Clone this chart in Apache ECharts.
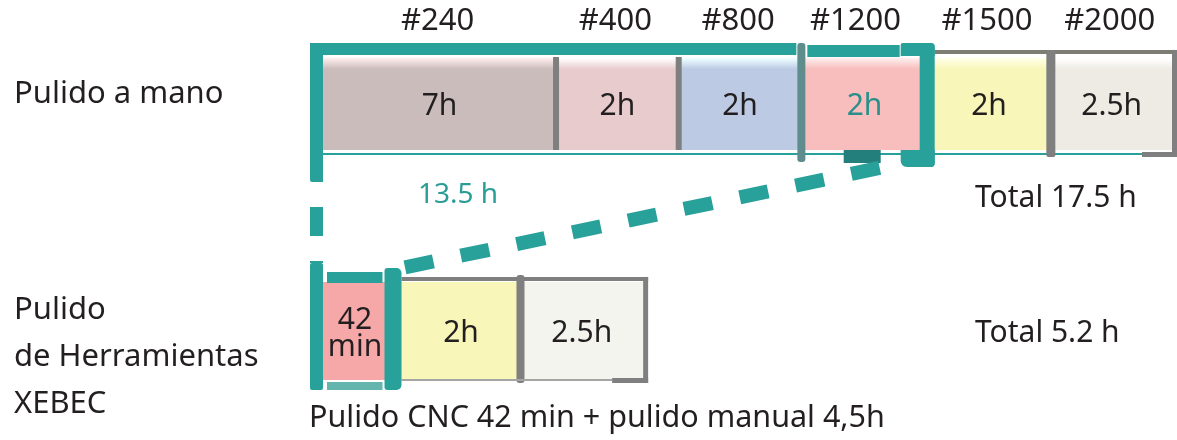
<!DOCTYPE html>
<html>
<head>
<meta charset="utf-8">
<script src="https://cdn.jsdelivr.net/npm/echarts@6/dist/echarts.min.js"></script>
<style>
  html, body { margin: 0; padding: 0; background: #fff; }
  #chart { width: 1177px; height: 440px; }
</style>
</head>
<body>
<div id="chart"></div>
<script>
// ---- data ----
const rowNames = ['Pulido a mano', 'Pulido\nde Herramientas\nXEBEC'];
const grits = ['#240', '#400', '#800', '#1200', '#1500', '#2000'];
const handLabels = ['7h', '2h', '2h', '2h', '2h', '2.5h'];
const xebecLabels = ['42\nmin', '2h', '2.5h'];
const totals = ['Total 17.5 h', 'Total 5.2 h'];
const replacedNote = '13.5 h';
const footNote = 'Pulido CNC 42 min + pulido manual 4,5h';

// ---- layout (cell widths in slot units, not proportional to hours) ----
const handSpan = [1.9, 1, 1, 1.03, 1, 1];
const xebecSpan = [0.64, 0.97, 1.0];

// ---- styles ----
const FONT = 'Noto Sans';
const INK = '#231f20';
const TEAL = '#27a199';
const TEAL_DARK = '#237f7b';
const GREY = '#7f7f7f';
const handColors = ['#cbbcbc', '#e8cbcd', '#bccbe3', '#f8bdbd', '#f8f6b9', '#eeebe4'];
const xebecColors = ['#f6a8a8', '#f8f6b9', '#f4f4ee'];
const handText = [INK, INK, INK, '#2a8f8b', INK, INK];

function bounds(spans) {
  const b = [0];
  spans.forEach(w => b.push(b[b.length - 1] + w));
  return b;
}
const hb = bounds(handSpan);
const xb = bounds(xebecSpan);

const cells = [];
handSpan.forEach((w, i) => cells.push([hb[i], hb[i + 1], 0, i]));
xebecSpan.forEach((w, i) => cells.push([xb[i], xb[i + 1], 1, i]));

function lighten(c) {
  return { type: 'linear', x: 0, y: 0, x2: 0, y2: 1, colorStops: [
    { offset: 0, color: '#ffffff' }, { offset: 0.02, color: echarts.color.lift(c, -0.25) },
    { offset: 0.13, color: c }, { offset: 1, color: c }] };
}

function renderCell(params, api) {
  const s = api.value(0), e = api.value(1), r = api.value(2), i = api.value(3);
  const p0 = api.coord([s, r]), p1 = api.coord([e, r]);
  const top = r === 0 ? p0[1] - 47 : p0[1] - 50;
  const bot = r === 0 ? p0[1] + 46 : p0[1] + 48;
  const fill = r === 0 ? handColors[i] : xebecColors[i];
  const children = [{
    type: 'rect',
    shape: { x: p0[0], y: top, width: p1[0] - p0[0], height: bot - top },
    style: { fill: r === 0 ? lighten(fill) : fill }
  }];
  let cx = (p0[0] + p1[0]) / 2;
  if (r === 1 && i === 0) cx = p0[0] + 32;
  children.push({
    type: 'text',
    style: {
      text: r === 0 ? handLabels[i] : xebecLabels[i],
      x: cx, y: (top + bot) / 2 + 3,
      align: 'center', verticalAlign: 'middle',
      fontFamily: FONT, fontSize: 30, lineHeight: 27,
      fill: r === 0 ? handText[i] : INK
    }
  });
  if (r === 0) {
    children.push({
      type: 'text',
      style: {
        text: grits[i], x: cx - (i === 3 ? 9 : 2), y: 21,
        align: 'center', verticalAlign: 'middle',
        fontFamily: FONT, fontSize: 31, fill: INK
      }
    });
  }
  return { type: 'group', children: children };
}

function renderFrame(params, api) {
  const X = v => api.coord([v, 0])[0];
  const y0 = api.coord([0, 0])[1], y1 = api.coord([0, 1])[1];
  const t = y0 - 47, b = y0 + 46;
  const t1 = y1 - 50, b1 = y1 + 48;
  const L = X(0);
  const R = X(hb[6]);
  const rect = (x, y, w, h, fill, r) => ({ type: 'rect', shape: { x: x, y: y, width: w, height: h, r: r || 0 }, style: { fill: fill } });
  const out = [];
  // top row grey frame
  out.push(rect(X(hb[4]) + 7, t - 7, R + 4 - X(hb[4]) - 7, 4, '#7d7d74'));
  out.push(rect(R - 1, t - 7, 5, b - t + 14, GREY));
  out.push(rect(R - 31, b + 2, 35, 5, GREY));
  out.push(rect(L, b + 3, R - 31 - L, 2, TEAL));
  out.push(rect(X(hb[1]) - 3, t, 6, b - t, GREY));
  out.push(rect(X(hb[2]) - 3, t, 6, b - t, GREY));
  out.push(rect(X(hb[5]) - 4, t - 7, 9, b - t + 14, GREY, 2));
  out.push(rect(X(hb[3]) - 4, t - 14, 8, b - t + 26, '#5f8c8d', 3));
  // top row teal bracket (first four grits)
  out.push(rect(L - 13, t - 14, X(hb[3]) - 5 - L + 13, 12, TEAL));
  out.push(rect(X(hb[3]) + 6, t - 12, X(hb[4]) - 28 - X(hb[3]) - 6, 12, TEAL));
  out.push(rect(L - 13, t - 14, 13, b + 32 - t + 14, TEAL, [2, 0, 0, 2]));
  out.push(rect(X(hb[4]) - 27, t - 14, 34, 13, TEAL, [2, 4, 0, 0]));
  out.push(rect(X(hb[4]) - 8, t - 14, 15, b + 17 - t + 14, TEAL, [2, 4, 4, 0]));
  out.push(rect(X(hb[4]) - 27, b, 34, 17, TEAL, [0, 0, 4, 6]));
  out.push(rect(X(hb[4]) - 84, b, 37, 13, TEAL_DARK));
  // bottom row grey frame
  const XB = v => api.coord([v, 1])[0];
  out.push(rect(XB(xb[1]), t1 - 5, XB(xb[3]) + 5 - XB(xb[1]), 4, GREY));
  out.push(rect(XB(xb[2]) - 4, t1 - 7, 8, b1 - t1 + 10, GREY, 3));
  out.push(rect(XB(xb[3]), t1 - 5, 5, b1 - t1 + 8, GREY));
  out.push(rect(XB(xb[3]) - 31, b1 - 2, 36, 5, GREY));
  out.push(rect(XB(xb[1]), b1 - 1, XB(xb[3]) - 31 - XB(xb[1]), 2, '#a5a5a5'));
  // bottom row teal frame (CNC cell)
  out.push(rect(L - 13, t1 - 19, 13, b1 + 10 - t1 + 19, TEAL, 2));
  out.push(rect(L + 4, t1 - 10, XB(xb[1]) - 19 - L - 4, 11, TEAL));
  out.push(rect(L + 4, b1 + 2, XB(xb[1]) - 19 - L - 4, 8, '#63b5ae'));
  out.push(rect(XB(xb[1]) - 17, t1 - 14, 17, b1 + 10 - t1 + 14, TEAL, [3, 5, 5, 3]));
  // dashed connectors
  out.push({
    type: 'line',
    shape: { x1: L - 6.5, y1: b + 32, x2: L - 6.5, y2: t1 - 19 },
    style: { stroke: TEAL, lineWidth: 13, lineDash: [29, 25], lineDashOffset: 29 }
  });
  out.push({
    type: 'line',
    shape: { x1: X(hb[4]) - 48, y1: b + 18, x2: XB(xb[1]) + 1, y2: t1 - 14 },
    style: { stroke: TEAL, lineWidth: 14, lineDash: [29, 28] }
  });
  return { type: 'group', children: out };
}

const textStyle = (text, x, y, size, fill, lh) => ({
  type: 'text', x: x, y: y,
  style: { text: text, fontFamily: FONT, fontSize: size, fill: fill || INK,
    verticalAlign: 'middle', lineHeight: lh || 36 }
});

const chart = echarts.init(document.getElementById('chart'));
chart.setOption({
  animation: false,
  backgroundColor: '#fff',
  grid: { left: 323, right: 4, top: 0, bottom: 0 },
  xAxis: { type: 'value', min: 0, max: hb[6], show: false },
  yAxis: { type: 'value', min: -0.456, max: 1.474, inverse: true, show: false },
  graphic: [
    textStyle(rowNames[0], 14, 94, 31),
    textStyle(rowNames[1], 14, 357, 31, INK, 47),
    textStyle(replacedNote, 418, 195, 28, '#2a9d96'),
    textStyle(totals[0], 975, 198, 30),
    textStyle(totals[1], 975, 333, 30),
    textStyle(footNote, 309, 418, 30.5)
  ],
  series: [
    {
      type: 'custom', name: 'cells',
      renderItem: renderCell,
      encode: { x: [0, 1], y: 2 },
      data: cells, z: 1
    },
    {
      type: 'custom', name: 'frame',
      renderItem: renderFrame,
      data: [[0, 0]], z: 2, silent: true
    }
  ]
});
</script>
</body>
</html>
